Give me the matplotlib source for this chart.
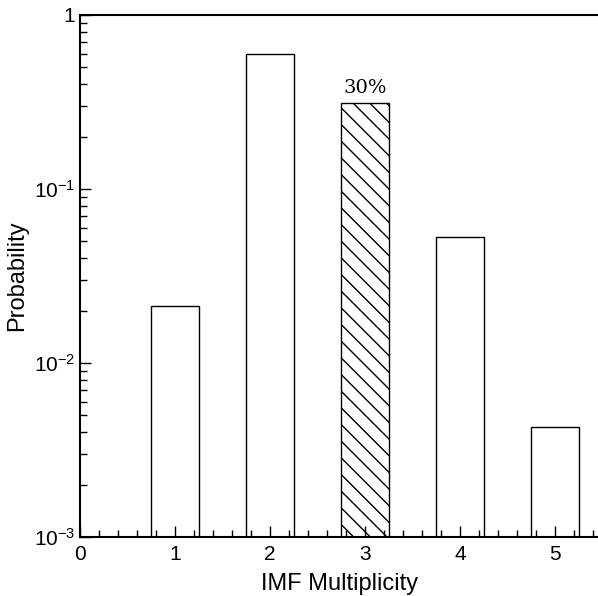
import matplotlib.pyplot as plt
from matplotlib.ticker import MultipleLocator, LogLocator, NullFormatter

# IMF multiplicity distribution
multiplicity = [1, 2, 3, 4, 5]
probability = [0.0213, 0.60, 0.312, 0.053, 0.0043]
hatched = [False, False, True, False, False]
y_ticks = [1e-3, 1e-2, 1e-1, 1]
y_tick_labels = [r'$10^{-3}$', r'$10^{-2}$', r'$10^{-1}$', '1']
y_floor = 1e-3

plt.rcParams['font.family'] = ['Liberation Sans', 'DejaVu Sans']
plt.rcParams['mathtext.fontset'] = 'custom'
plt.rcParams['mathtext.rm'] = 'Liberation Sans'
plt.rcParams['mathtext.it'] = 'Liberation Sans'
plt.rcParams['hatch.linewidth'] = 1.0

fig = plt.figure(figsize=(5.98, 5.96), dpi=100)
ax = fig.add_axes([0.134, 0.099, 0.866, 0.876])

for x, p, h in zip(multiplicity, probability, hatched):
    ax.bar(x, p - y_floor, width=0.5, bottom=y_floor, facecolor='white',
           edgecolor='black', linewidth=1.0, hatch='\\\\' if h else None)

ax.text(3, 0.312 * 1.08, '30%', ha='center', va='bottom', fontsize=14,
        family='DejaVu Serif')

ax.set_yscale('log')
ax.set_ylim(1e-3, 1)
ax.set_xlim(0, 5.45)

ax.set_yticks(y_ticks)
ax.set_yticklabels(y_tick_labels)
ax.yaxis.set_minor_locator(LogLocator(base=10, subs=range(2, 10)))
ax.yaxis.set_minor_formatter(NullFormatter())
ax.xaxis.set_major_locator(MultipleLocator(1))
ax.xaxis.set_minor_locator(MultipleLocator(0.2))

ax.tick_params(which='both', direction='in', top=False, right=False, labelsize=15, width=1.0)
ax.tick_params(which='major', length=8)
ax.tick_params(which='minor', length=5)
ax.tick_params(axis='x', pad=6)

ax.spines['right'].set_visible(False)
for s in ['left', 'bottom', 'top']:
    ax.spines[s].set_linewidth(1.5)

ax.set_xlabel('IMF Multiplicity', fontsize=17, labelpad=6)
ax.set_ylabel('Probability', fontsize=17, labelpad=4)

fig.savefig('out.png', dpi=100)
